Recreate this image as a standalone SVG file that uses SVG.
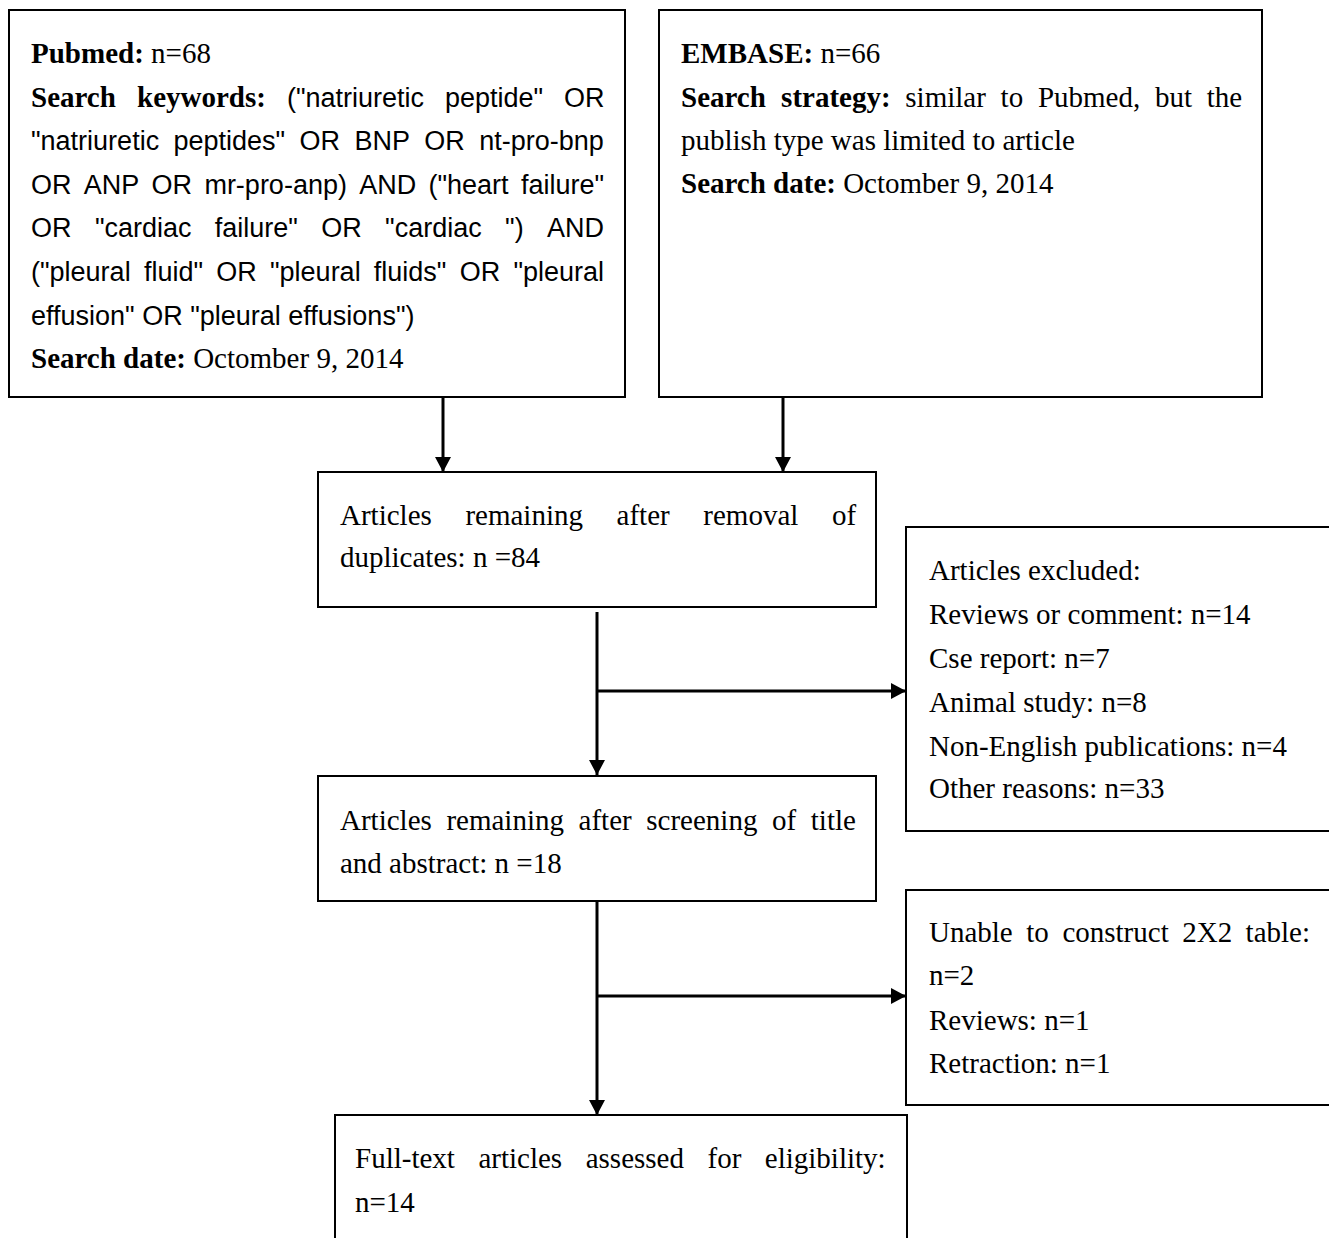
<svg xmlns="http://www.w3.org/2000/svg" width="1329" height="1238" viewBox="0 0 1329 1238">
<style>
.box{fill:#fff;stroke:#000;stroke-width:2}
.serif{font-family:"Liberation Serif","Times New Roman",serif;font-size:29px;fill:#000}
.sans{font-family:"Liberation Sans",Arial,sans-serif;font-size:27px;fill:#000}
.b{font-weight:bold}
.conn{stroke:#000;stroke-width:3;fill:none}
</style>
<defs>
<marker id="ah" markerUnits="userSpaceOnUse" markerWidth="18" markerHeight="18" refX="15" refY="8" orient="auto">
<path d="M0,0 L15,8 L0,16 z" fill="#000"/>
</marker>
</defs>
<rect width="1329" height="1238" fill="#fff"/>

<g id="pubmed">
<rect class="box" x="9" y="10" width="616" height="387"/>
<text class="serif" x="31" y="63"><tspan class="b">Pubmed:</tspan> n=68</text>
<text y="107"><tspan class="serif b" x="31">Search</tspan><tspan class="serif b" x="137">keywords:</tspan><tspan class="sans" x="287">("natriuretic</tspan><tspan class="sans" x="445">peptide"</tspan><tspan class="sans" x="564">OR</tspan></text>
<text class="sans" y="150"><tspan x="31">"natriuretic</tspan><tspan x="173.5">peptides"</tspan><tspan x="299.5">OR</tspan><tspan x="354.4">BNP</tspan><tspan x="424.3">OR</tspan><tspan x="479.2">nt-pro-bnp</tspan></text>
<text class="sans" y="194"><tspan x="31">OR</tspan><tspan x="83.8">ANP</tspan><tspan x="151.6">OR</tspan><tspan x="204.4">mr-pro-anp)</tspan><tspan x="359.2">AND</tspan><tspan x="428.5">("heart</tspan><tspan x="520.9">failure"</tspan></text>
<text class="sans" y="237"><tspan x="31">OR</tspan><tspan x="94.9">"cardiac</tspan><tspan x="214.8">failure"</tspan><tspan x="321.3">OR</tspan><tspan x="385.1">"cardiac</tspan><tspan x="505.1">")</tspan><tspan x="547">AND</tspan></text>
<text class="sans" y="281"><tspan x="31">("pleural</tspan><tspan x="143.9">fluid"</tspan><tspan x="216.2">OR</tspan><tspan x="270">"pleural</tspan><tspan x="373.8">fluids"</tspan><tspan x="459.7">OR</tspan><tspan x="513.4">"pleural</tspan></text>
<text class="sans" x="31" y="325">effusion" OR "pleural effusions")</text>
<text class="serif" x="31" y="368"><tspan class="b">Search date:</tspan> Octomber 9, 2014</text>
</g>

<g id="embase">
<rect class="box" x="659" y="10" width="603" height="387"/>
<text class="serif" x="681" y="63"><tspan class="b">EMBASE:</tspan> n=66</text>
<text class="serif" y="107"><tspan class="b" x="681">Search</tspan><tspan class="b" x="781.1">strategy:</tspan><tspan x="905.3">similar</tspan><tspan x="1000.6">to</tspan><tspan x="1037.9">Pubmed,</tspan><tspan x="1154.9">but</tspan><tspan x="1206.7">the</tspan></text>
<text class="serif" x="681" y="150">publish type was limited to article</text>
<text class="serif" x="681" y="193"><tspan class="b">Search date:</tspan> Octomber 9, 2014</text>
</g>

<g id="dedup">
<rect class="box" x="318" y="472" width="558" height="135"/>
<text class="serif" y="525"><tspan x="340">Articles</tspan><tspan x="465.4">remaining</tspan><tspan x="616.6">after</tspan><tspan x="703.3">removal</tspan><tspan x="831.9">of</tspan></text>
<text class="serif" x="340" y="567">duplicates: n =84</text>
</g>

<g id="excluded1">
<rect class="box" x="906" y="527" width="440" height="304"/>
<text class="serif" x="929" y="580">Articles excluded:</text>
<text class="serif" x="929" y="624">Reviews or comment: n=14</text>
<text class="serif" x="929" y="668">Cse report: n=7</text>
<text class="serif" x="929" y="712">Animal study: n=8</text>
<text class="serif" x="929" y="756">Non-English publications: n=4</text>
<text class="serif" x="929" y="798">Other reasons: n=33</text>
</g>

<g id="screening">
<rect class="box" x="318" y="776" width="558" height="125"/>
<text class="serif" y="830"><tspan x="340">Articles</tspan><tspan x="446.4">remaining</tspan><tspan x="578.6">after</tspan><tspan x="646.3">screening</tspan><tspan x="772">of</tspan><tspan x="810.8">title</tspan></text>
<text class="serif" x="340" y="873">and abstract: n =18</text>
</g>

<g id="excluded2">
<rect class="box" x="906" y="890" width="440" height="215"/>
<text class="serif" y="942"><tspan x="929">Unable</tspan><tspan x="1026.3">to</tspan><tspan x="1062.4">construct</tspan><tspan x="1182.2">2X2</tspan><tspan x="1245.6">table:</tspan></text>
<text class="serif" x="929" y="985">n=2</text>
<text class="serif" x="929" y="1030">Reviews: n=1</text>
<text class="serif" x="929" y="1073">Retraction: n=1</text>
</g>

<g id="fulltext">
<rect class="box" x="335" y="1115" width="572" height="140"/>
<text class="serif" y="1168"><tspan x="355">Full-text</tspan><tspan x="478.4">articles</tspan><tspan x="585.7">assessed</tspan><tspan x="707.5">for</tspan><tspan x="764.8">eligibility:</tspan></text>
<text class="serif" x="355" y="1212">n=14</text>
</g>

<g id="connectors">
<line class="conn" x1="443" y1="397" x2="443" y2="472" marker-end="url(#ah)"/>
<line class="conn" x1="783" y1="397" x2="783" y2="472" marker-end="url(#ah)"/>
<line class="conn" x1="597" y1="612" x2="597" y2="775" marker-end="url(#ah)"/>
<line class="conn" x1="597" y1="691" x2="906" y2="691" marker-end="url(#ah)"/>
<line class="conn" x1="597" y1="901" x2="597" y2="1115" marker-end="url(#ah)"/>
<line class="conn" x1="597" y1="996" x2="906" y2="996" marker-end="url(#ah)"/>
</g>
</svg>
